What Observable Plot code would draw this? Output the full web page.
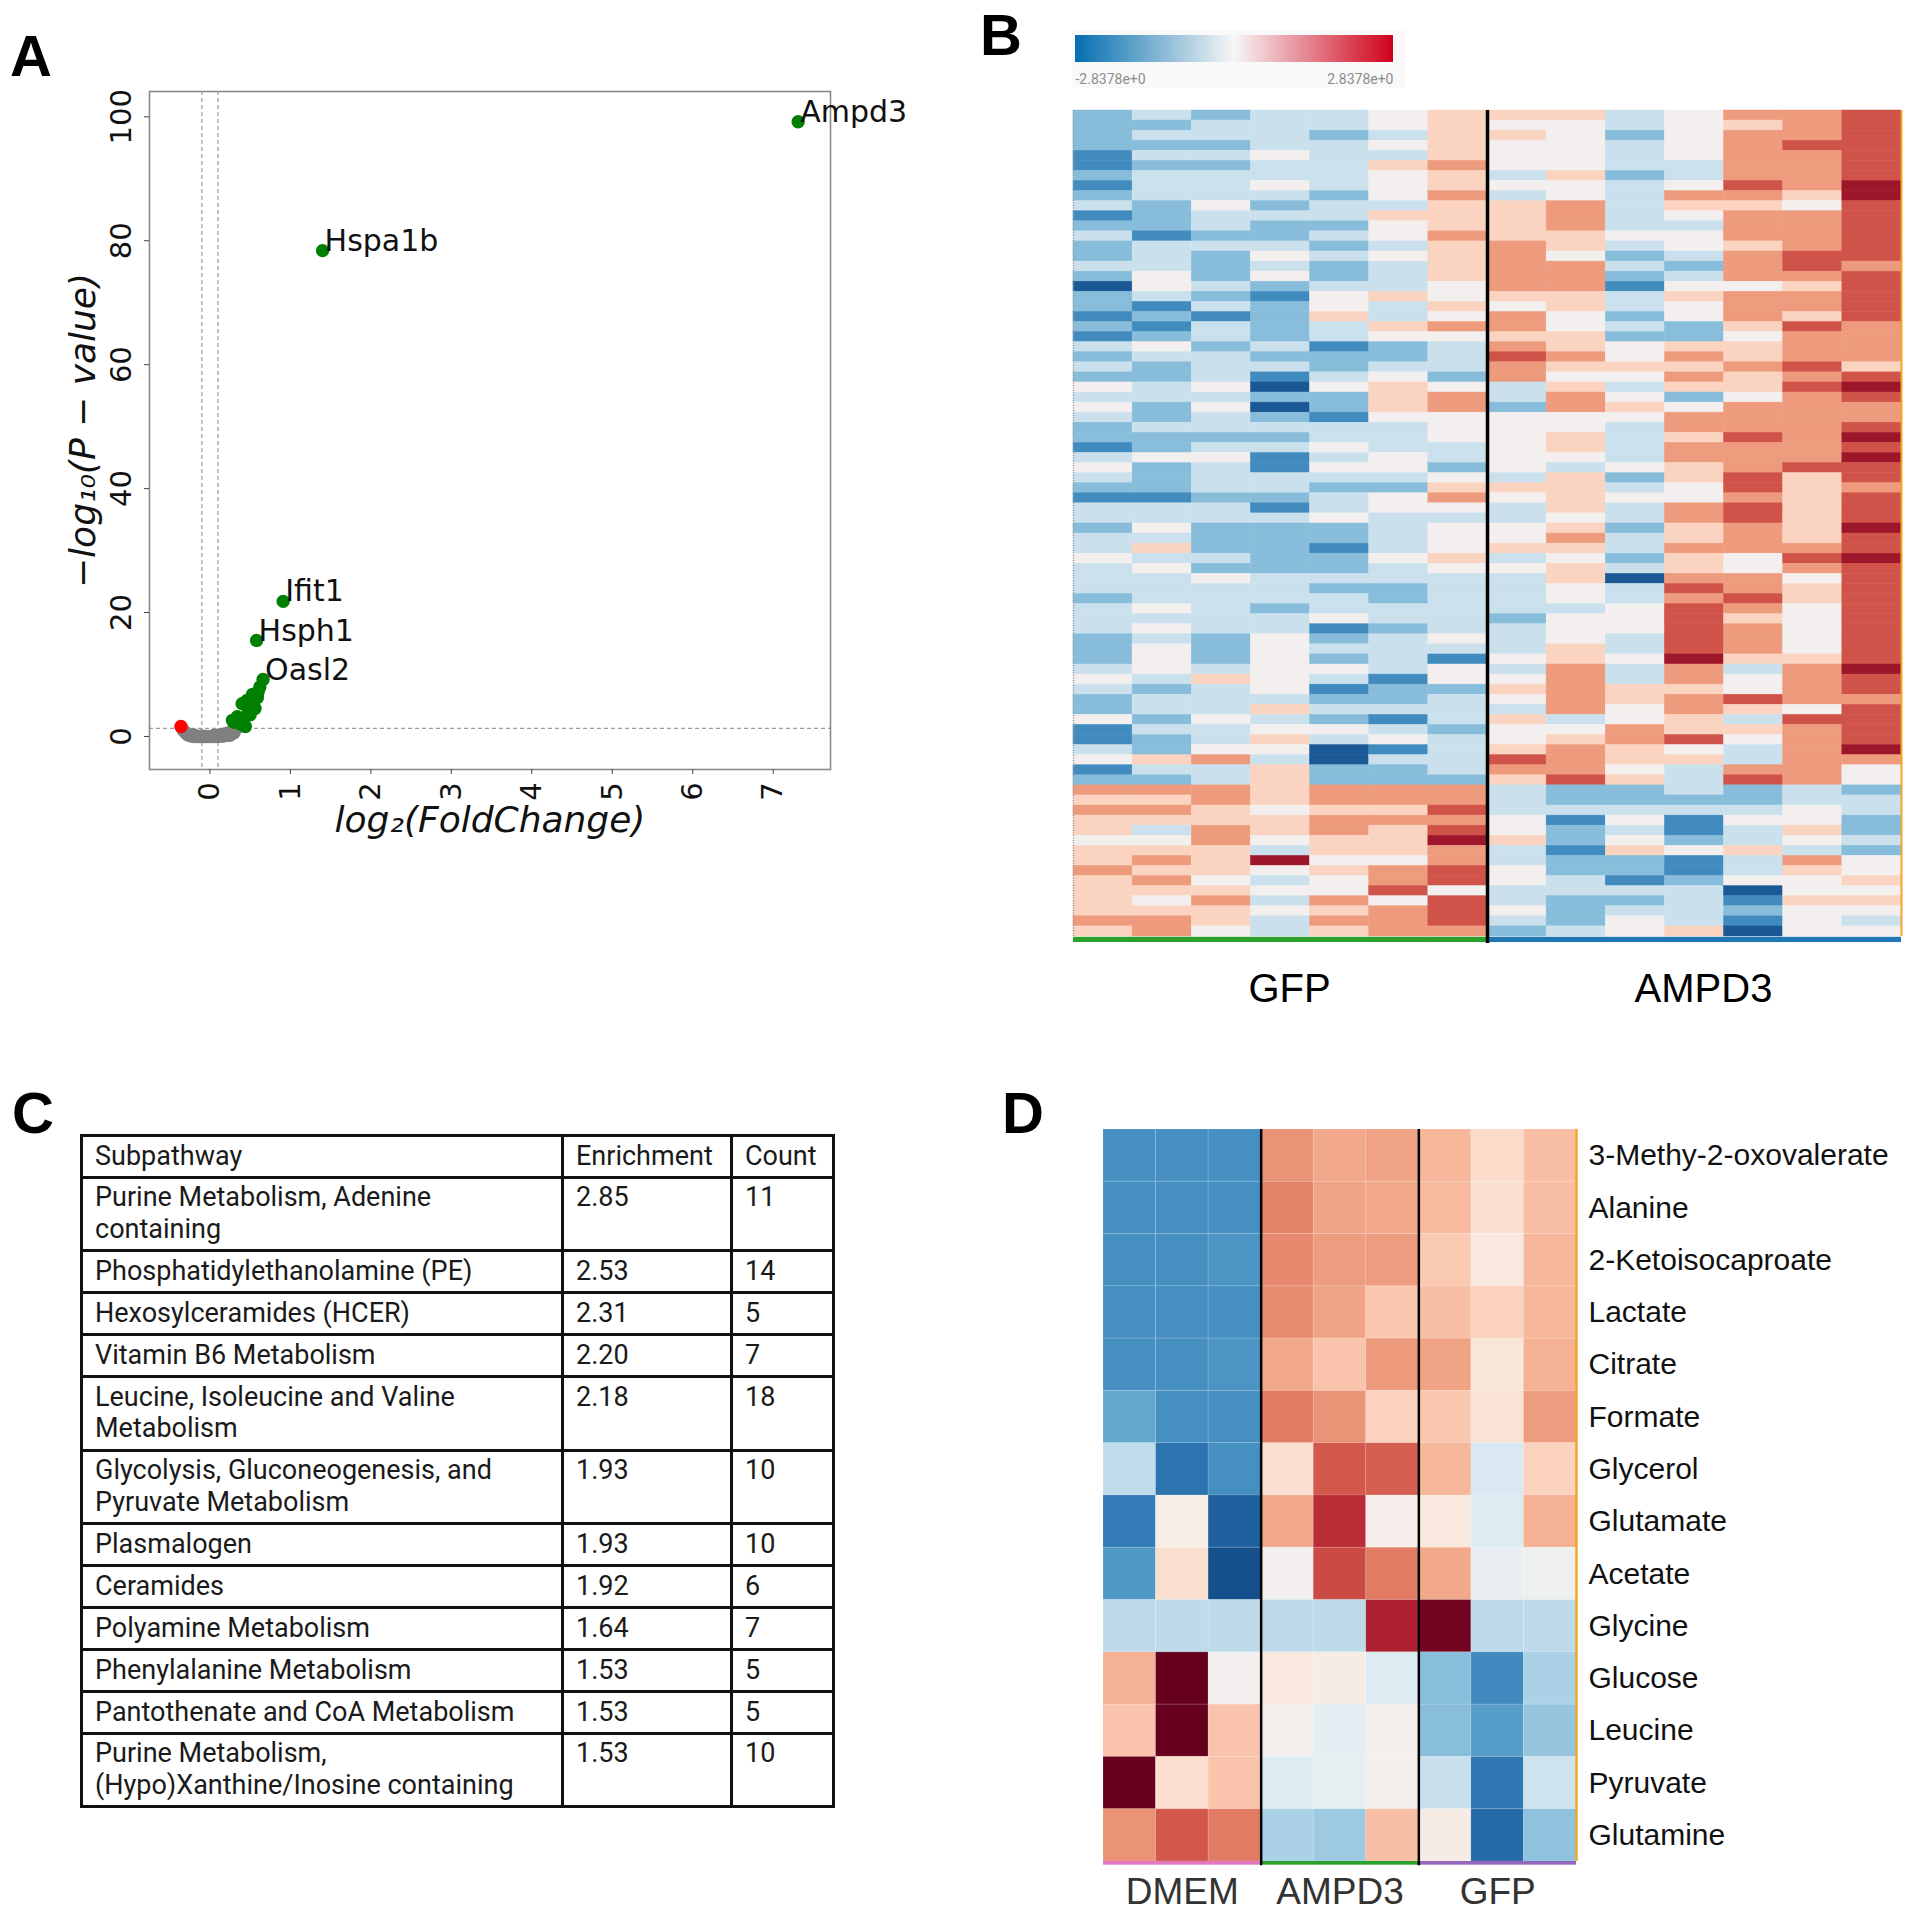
<!DOCTYPE html>
<html><head><meta charset="utf-8">
<script src="https://cdn.jsdelivr.net/npm/d3@7"></script>
<script src="https://cdn.jsdelivr.net/npm/@observablehq/plot@0.6"></script>
<style>
body{margin:0;background:#fff;}
#page{position:relative;width:1920px;height:1915px;overflow:hidden;background:#fff;font-family:"Liberation Sans",Arial,sans-serif;}
table.tc{border-collapse:collapse;font-family:Roboto,sans-serif;font-size:27px;color:#1a1a1a;line-height:31.7px;table-layout:fixed;}
table.tc td{border:3.5px solid #111;padding:3.6px 6px 3.6px 12px;vertical-align:top;white-space:nowrap;}
</style></head>
<body><div id="page"></div>
<script>
// ---------- Panel A data (volcano) ----------
const nsFC = [-0.33,-0.31,-0.29,-0.27,-0.24,-0.21,-0.18,-0.15,-0.12,-0.09,-0.06,-0.03,0.00,0.03,0.06,0.09,0.12,0.15,0.18,0.20,0.22,0.24,0.26,0.28,0.30,0.32,0.34,0.25,0.20,0.15,-0.20,0.10,0.30,0.05,-0.10];
const nsP  = [1.00,0.70,0.45,0.25,0.10,0.03,0.00,0.00,0.00,0.00,0.00,0.00,0.00,0.00,0.00,0.00,0.02,0.05,0.10,0.20,0.35,0.55,0.75,0.95,1.15,1.30,1.45,0.20,0.50,0.30,0.25,0.20,0.60,0.15,0.10];
const upFC = [0.28,0.30,0.34,0.38,0.40,0.42,0.44,0.46,0.48,0.50,0.53,0.54,0.56,0.59,0.60,0.62];
const upP  = [2.6,2.3,3.2,2.0,5.3,3.0,1.6,5.8,4.2,3.5,6.8,5.2,4.5,6.3,7.2,8.0];
const downFC = [-0.36];
const downP  = [1.6];
const labelGenes = ["Ampd3","Hspa1b","Ifit1","Hsph1","Oasl2"];
const labelFC = [7.31,1.40,0.91,0.58,0.66];
const labelP  = [99.2,78.4,21.8,15.5,9.2];
const xTicksA = [0,1,2,3,4,5,6,7];
const yTicksA = [0,20,40,60,80,100];

// ---------- Panel B data (heatmap, levels 1..9, 5 = 0) ----------
const heatColsB = ["GFP 1","GFP 2","GFP 3","GFP 4","GFP 5","GFP 6","GFP 7","AMPD3 1","AMPD3 2","AMPD3 3","AMPD3 4","AMPD3 5","AMPD3 6","AMPD3 7"];
const heatLevelsB = [
"3333223234 2343343133 2324343545 4332454324 43 44544434 4433345433 5224523 7676656676 66676",
"4343434443 3324445542 3235433443 3433533324 45 46454445 4545554344 3433643 7676456767 65677",
"3443434445 4434333434 2443444545 4434544434 43 33435444 4433346444 5445744 7766776665 67665",
"4444544543 4334545323 3334342131 3434224432 43 33334443 4455555546 4565466 6656654954 54544",
"4434444434 4343433455 6442334533 2445454344 53 32334344 5234354234 3541133 7767766565 57676",
"5545465554 6554544464 4653345666 5444554355 44 44544334 4344442334 2452433 7767666577 85777",
"6666676676 6676666556 5754443577 5554435675 45 55654444 4454255344 4344443 7787897788 58887",
"6565554546 6667777765 7767877443 5555554654 45 56454444 3444545654 6556876 4445564455 44543",
"6555556557 7766577766 5566765677 5566546666 56 76566554 5556677777 4567778 3342332334 43334",
"4434443444 4454343244 3435565456 5444453454 43 44341445 5544544665 5776656 3345456332 43455",
"5555544576 5455434565 5336767635 7767766557 76 67667878 8888977677 6685644 4342235223 44446",
"7677777876 7776777577 7656676657 7787778878 87 77557787 6777645586 4654478 3345446445 12321",
"7778777765 7777887677 6877787877 7777786666 66 67875665 5555677775 8777777 4455654765 56555",
"8888888998 8888878888 8777768987 7898988788 89 88988888 8888898878 8889755 3443343556 56545"
];
const groupsB = ["GFP","AMPD3"];
const colorbarLimits = [-2.8378, 2.8378];

// ---------- Panel C data (table) ----------
const subpathways = ["Purine Metabolism, Adenine\ncontaining","Phosphatidylethanolamine (PE)","Hexosylceramides (HCER)","Vitamin B6 Metabolism","Leucine, Isoleucine and Valine\nMetabolism","Glycolysis, Gluconeogenesis, and\nPyruvate Metabolism","Plasmalogen","Ceramides","Polyamine Metabolism","Phenylalanine Metabolism","Pantothenate and CoA Metabolism","Purine Metabolism,\n(Hypo)Xanthine/Inosine containing"];
const enrichment = [2.85,2.53,2.31,2.20,2.18,1.93,1.93,1.92,1.64,1.53,1.53,1.53];
const counts = [11,14,5,7,18,10,10,6,7,5,5,10];
const tableHeader = ["Subpathway","Enrichment","Count"];

// ---------- Panel D data ----------
const metabolites = ["3-Methy-2-oxovalerate","Alanine","2-Ketoisocaproate","Lactate","Citrate","Formate","Glycerol","Glutamate","Acetate","Glycine","Glucose","Leucine","Pyruvate","Glutamine"];
const groupsD = ["DMEM","AMPD3","GFP"];
const valuesD = [
 [-0.62,-0.62,-0.62, 0.45,0.38,0.40, 0.33,0.18,0.30],
 [-0.62,-0.62,-0.62, 0.50,0.40,0.38, 0.32,0.15,0.30],
 [-0.62,-0.62,-0.60, 0.48,0.42,0.42, 0.26,0.10,0.33],
 [-0.62,-0.62,-0.62, 0.47,0.40,0.27, 0.30,0.22,0.33],
 [-0.62,-0.62,-0.60, 0.38,0.28,0.43, 0.40,0.12,0.35],
 [-0.52,-0.62,-0.62, 0.52,0.45,0.22, 0.27,0.14,0.42],
 [-0.25,-0.74,-0.62, 0.15,0.62,0.60, 0.33,-0.15,0.22],
 [-0.70,0.05,-0.82, 0.38,0.75,0.03, 0.10,-0.12,0.35],
 [-0.58,0.16,-0.88, 0.00,0.66,0.52, 0.38,-0.07,-0.03],
 [-0.26,-0.26,-0.26, -0.26,-0.26,0.80, 0.97,-0.26,-0.26],
 [0.35,1.00,0.00, 0.10,0.06,-0.12, -0.42,-0.64,-0.32],
 [0.28,1.00,0.28, 0.02,-0.10,0.02, -0.42,-0.56,-0.38],
 [1.00,0.16,0.28, -0.12,-0.08,0.02, -0.22,-0.72,-0.20],
 [0.45,0.62,0.52, -0.32,-0.36,0.30, 0.06,-0.78,-0.40]
];

// ================= build =================
const page = document.getElementById("page");
function place(el, left, top){ el.style.position="absolute"; el.style.left=left+"px"; el.style.top=top+"px"; page.appendChild(el); return el; }

// ---- Panel A ----
const pts = [];
nsFC.forEach((v,i)=>pts.push({fc:v,p:nsP[i],c:"#808080"}));
upFC.forEach((v,i)=>pts.push({fc:v,p:upP[i],c:"#008000"}));
labelFC.forEach((v,i)=>pts.push({fc:v,p:labelP[i],c:"#008000"}));
downFC.forEach((v,i)=>pts.push({fc:v,p:downP[i],c:"#ff0000"}));
const labs = labelGenes.map((g,i)=>({g, fc:labelFC[i], p:labelP[i]}));

const plotA = Plot.plot({
  width:960, height:900, marginLeft:149, marginRight:130, marginTop:91, marginBottom:131,
  x:{domain:[-0.751,7.712], axis:null},
  y:{domain:[-5.33,104.08], axis:null},
  style:{fontFamily:"DejaVu Sans", background:"transparent", color:"#222"},
  marks:[
    Plot.ruleX([-0.1,0.1], {stroke:"#9a9a9a", strokeDasharray:"4,3", strokeWidth:1.2}),
    Plot.ruleY([1.3], {stroke:"#9a9a9a", strokeDasharray:"4,3", strokeWidth:1.2}),
    Plot.frame({stroke:"#8a8a8a", strokeWidth:1.6}),
    Plot.axisX({ticks:xTicksA, tickSize:5, tickFormat:()=>"", label:null, stroke:"#444"}),
    Plot.axisY({ticks:yTicksA, tickSize:5, tickFormat:()=>"", label:null, stroke:"#444"}),
    Plot.text(xTicksA, {x:d=>d, frameAnchor:"bottom", dy:22, rotate:-90, text:d=>String(d), fontSize:29, textAnchor:"middle", lineAnchor:"middle", fill:"#111"}),
    Plot.text(yTicksA, {y:d=>d, frameAnchor:"left", dx:-27.5, rotate:-90, text:d=>String(d), fontSize:29, textAnchor:"middle", lineAnchor:"middle", fill:"#111"}),
    Plot.text(["log\u2082(FoldChange)"], {frameAnchor:"bottom", dy:51, fontSize:36, fontStyle:"italic", fill:"#111", textAnchor:"middle", lineAnchor:"middle"}),
    Plot.text(["\u2212log\u2081\u2080(P \u2212 value)"], {frameAnchor:"left", dx:-66, rotate:-90, fontSize:36, fontStyle:"italic", fill:"#111", textAnchor:"middle", lineAnchor:"middle"}),
    Plot.dot(pts, {x:"fc", y:"p", r:6.7, fill:"c"}),
    Plot.text(labs, {x:"fc", y:"p", text:"g", textAnchor:"start", lineAnchor:"middle", dx:2, dy:-9.5, fontSize:30, fill:"#111"})
  ]
});
place(plotA, 0, 0);

// ---- Panel C (table) ----
const tbl = document.createElement("table");
tbl.className = "tc";
tbl.style.width = "752px";
const cg = document.createElement("colgroup");
[481,169,102].forEach(w=>{const c=document.createElement("col"); c.style.width=w+"px"; cg.appendChild(c);});
tbl.appendChild(cg);
function addRow(cells){
  const tr=document.createElement("tr");
  cells.forEach(t=>{const td=document.createElement("td"); String(t).split("\n").forEach((line,k)=>{ if(k) td.appendChild(document.createElement("br")); td.appendChild(document.createTextNode(line)); }); tr.appendChild(td);});
  tbl.appendChild(tr);
}
addRow(tableHeader);
subpathways.forEach((s,i)=>addRow([s, enrichment[i].toFixed(2), counts[i]]));
place(tbl, 80, 1134);

// ---- Panel B (heatmap) ----
const cellsB = [];
heatLevelsB.forEach((s,c)=>{
  const str = s.replace(/\s/g,"");
  for(let r=0;r<str.length;r++){ cellsB.push({c, r, v:(+str[r]-5)*0.7}); }
});
const nRowsB = 82;
const plotB = Plot.plot({
  width:960, height:1040, marginLeft:113, marginRight:19, marginTop:110, marginBottom:104,
  x:{domain:[0,heatColsB.length], axis:null},
  y:{domain:[0,nRowsB], reverse:true, axis:null},
  color:{type:"linear", scheme:"RdBu", reverse:true, domain:[-3.3,3.3]},
  style:{fontFamily:"Liberation Sans", background:"transparent"},
  marks:[
    Plot.rect(cellsB, {x1:"c", x2:d=>d.c+1, y1:"r", y2:d=>d.r+1, fill:"v", stroke:"v", strokeWidth:0.5}),
    Plot.rect([{a:0,b:7}], {x1:"a", x2:"b", y1:()=>82.08, y2:()=>82.6, fill:"#2ca02c"}),
    Plot.rect([{a:7,b:14}], {x1:"a", x2:"b", y1:()=>82.08, y2:()=>82.6, fill:"#1f77b4"}),
    Plot.ruleX([0], {y1:()=>0, y2:()=>82, stroke:"#999", strokeWidth:1.5, strokeDasharray:"1,1.5"}),
    Plot.ruleX([14], {y1:()=>0, y2:()=>82, stroke:"#f5a623", strokeWidth:2}),
    Plot.ruleX([7], {y1:()=>0, y2:()=>82.7, stroke:"#000", strokeWidth:3.5}),
    Plot.text(groupsB, {x:(d,i)=>i*7+3.5, y:()=>82, dx:9, dy:53, text:d=>d, fontSize:40, fill:"#000", lineAnchor:"middle"})
  ]
});
place(plotB, 960, 0);

// colorbar background box + legend
const box = document.createElement("div");
box.style.width="333px"; box.style.height="58px"; box.style.background="#f9f9f9";
place(box, 1072, 30);
const leg = Plot.legend({
  color:{type:"linear", domain:[colorbarLimits[0],0,colorbarLimits[1]], range:["#0570b0","#f7f7f7","#d0021b"]},
  width:318, height:52, marginLeft:0, marginRight:0, marginTop:0, marginBottom:25,
  tickSize:0, ticks:colorbarLimits, tickFormat:d=>d.toExponential(4)
});
const legSel = d3.select(leg);
legSel.selectAll(".tick line").remove();
const tks = legSel.selectAll(".tick text");
tks.attr("y", 12).attr("fill","#8c8c8c").style("font-family","Roboto").style("font-size","14px");
tks.each(function(d,i){ d3.select(this).attr("text-anchor", i===0 ? "start" : "end"); });
leg.style.background="transparent";
leg.style.overflow="visible";
place(leg, 1075, 35);

// ---- Panel D (heatmap) ----
const cellsD = [];
valuesD.forEach((row,r)=>row.forEach((v,c)=>cellsD.push({r,c,v})));
const plotD = Plot.plot({
  width:960, height:865, marginLeft:143, marginRight:344, marginTop:79, marginBottom:54,
  x:{domain:[0,9], axis:null},
  y:{domain:[0,metabolites.length], reverse:true, axis:null},
  color:{type:"linear", scheme:"RdBu", reverse:true, domain:[-1,1]},
  style:{fontFamily:"Liberation Sans", background:"transparent"},
  marks:[
    Plot.rect(cellsD, {x1:"c", x2:d=>d.c+1, y1:"r", y2:d=>d.r+1, fill:"v", stroke:"white", strokeOpacity:0.12, strokeWidth:1}),
    Plot.rect([{a:0,b:3}], {x1:"a", x2:"b", y1:()=>14.0, y2:()=>14.07, fill:"#e377c2"}),
    Plot.rect([{a:3,b:6}], {x1:"a", x2:"b", y1:()=>14.0, y2:()=>14.07, fill:"#2ca02c"}),
    Plot.rect([{a:6,b:9}], {x1:"a", x2:"b", y1:()=>14.0, y2:()=>14.07, fill:"#9467bd"}),
    Plot.ruleX([9], {y1:()=>0, y2:()=>14, stroke:"#f5a623", strokeWidth:2.5}),
    Plot.ruleX([3,6], {y1:()=>0, y2:()=>14.08, stroke:"#000", strokeWidth:2.5}),
    Plot.text(metabolites, {x:()=>9, y:(d,i)=>i+0.5, text:d=>d, dx:12, textAnchor:"start", lineAnchor:"middle", fontSize:30, fill:"#111"}),
    Plot.text(groupsD, {x:(d,i)=>i*3+1.5, y:()=>14, dy:31, text:d=>d, fontSize:37, fill:"#333", lineAnchor:"middle"})
  ]
});
place(plotD, 960, 1050);

// ---- Panel letters ----
const ov = d3.create("svg").attr("width",1920).attr("height",1915)
  .style("position","absolute").style("left","0px").style("top","0px").style("pointer-events","none");
[["A",10,76],["B",980,55],["C",12,1133],["D",1002,1133]].forEach(([t,x,y])=>{
  ov.append("text").attr("x",x).attr("y",y).attr("font-family","Liberation Sans, Arial, sans-serif")
    .attr("font-weight","bold").attr("font-size",58).attr("fill","#000").text(t);
});
page.appendChild(ov.node());
</script></body></html>
